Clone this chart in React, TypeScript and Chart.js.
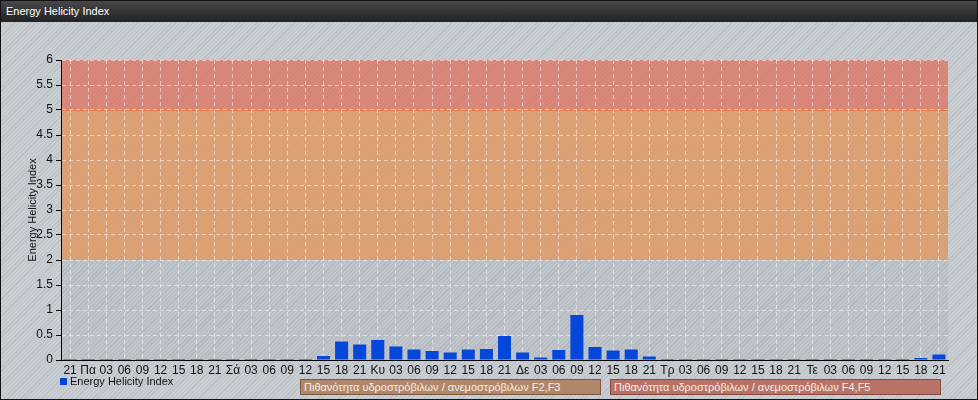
import React, { useEffect, useRef } from 'react';
import { Chart, registerables } from 'chart.js';

Chart.register(...registerables);

const chartTitle = 'Energy Helicity Index';
const seriesName = 'Energy Helicity Index';

const categories = [
  '21', 'Πα', '03', '06', '09', '12', '15', '18',
  '21', 'Σά', '03', '06', '09', '12', '15', '18',
  '21', 'Κυ', '03', '06', '09', '12', '15', '18',
  '21', 'Δε', '03', '06', '09', '12', '15', '18',
  '21', 'Τρ', '03', '06', '09', '12', '15', '18',
  '21', 'Τε', '03', '06', '09', '12', '15', '18',
  '21',
];

const helicity = [
  0.02, 0.02, 0.02, 0.02, 0.02, 0.02, 0.02, 0.02,
  0.02, 0.02, 0.02, 0.02, 0.02, 0.02, 0.08, 0.37,
  0.31, 0.40, 0.27, 0.21, 0.18, 0.15, 0.21, 0.22,
  0.48, 0.15, 0.05, 0.20, 0.90, 0.26, 0.19, 0.21,
  0.07, 0.02, 0.02, 0.02, 0.02, 0.02, 0.02, 0.02,
  0.02, 0.02, 0.02, 0.02, 0.02, 0.02, 0.02, 0.04,
  0.11,
];

const yMin = 0;
const yMax = 6;
const yStep = 0.5;

const bandFrom = [2, 5];
const bandTo = [5, 6];
const bandFill = ['rgba(236,140,62,0.60)', 'rgba(234,96,66,0.60)'];
const bandLabels = [
  'Πιθανότητα υδροστρόβιλων / ανεμοστρόβιλων F2,F3',
  'Πιθανότητα υδροστρόβιλων / ανεμοστρόβιλων F4,F5',
];
const bandLabelFill = ['#b0876a', '#b87366'];
const bandLabelBorder = ['#7d5a3c', '#874a42'];

const FONT = '"Liberation Sans", Arial, Helvetica, sans-serif';

const bandsPlugin = {
  id: 'bands',
  beforeDraw(chart: any) {
    const { ctx, chartArea } = chart;
    const y = chart.scales.y;
    ctx.save();
    ctx.fillStyle = 'rgba(110,115,125,0.10)';
    ctx.fillRect(chartArea.left, chartArea.top, chartArea.right - chartArea.left, chartArea.bottom - chartArea.top);
    for (let i = 0; i < bandFrom.length; i++) {
      const top = y.getPixelForValue(bandTo[i]);
      const bottom = y.getPixelForValue(bandFrom[i]);
      ctx.fillStyle = bandFill[i];
      ctx.fillRect(chartArea.left, top, chartArea.right - chartArea.left, bottom - top);
    }
    const y5 = Math.round(y.getPixelForValue(bandFrom[1])) + 0.5;
    ctx.strokeStyle = 'rgba(235,110,55,0.75)';
    ctx.lineWidth = 1;
    ctx.beginPath();
    ctx.moveTo(chartArea.left, y5);
    ctx.lineTo(chartArea.right, y5);
    ctx.stroke();
    ctx.restore();
  },
};

export default function App() {
  const canvasRef = useRef<HTMLCanvasElement | null>(null);

  useEffect(() => {
    document.body.style.margin = '0';
    const canvas = canvasRef.current;
    if (!canvas) return;
    const chart = new Chart(canvas, {
      type: 'bar',
      data: {
        labels: categories,
        datasets: [
          {
            label: seriesName,
            data: helicity,
            backgroundColor: '#0447da',
            borderWidth: 0,
          },
        ],
      },
      options: {
        animation: false,
        responsive: false,
        maintainAspectRatio: false,
        devicePixelRatio: 1,
        layout: { padding: { left: 22, top: 60, right: 30, bottom: 0 } },
        plugins: {
          legend: { display: false },
          tooltip: { enabled: false },
          title: { display: false },
        },
        scales: {
          x: {
            offset: true,
            grid: {
              offset: false,
              color: 'rgba(255,255,255,0.5)',
              drawTicks: false,
              lineWidth: 1,
            },
            border: { color: '#000', width: 1, dash: [4, 3] },
            ticks: {
              color: '#111',
              font: { family: FONT, size: 12 },
              padding: 3,
              maxRotation: 0,
              minRotation: 0,
              autoSkip: false,
            },
            afterFit: (s: any) => {
              s.height = 40;
            },
          },
          y: {
            min: yMin,
            max: yMax,
            grid: {
              color: 'rgba(255,255,255,0.5)',
              tickColor: '#000',
              tickLength: 5,
              lineWidth: 1,
            },
            border: { color: '#000', width: 1, dash: [4, 3] },
            ticks: {
              stepSize: yStep,
              color: '#111',
              font: { family: FONT, size: 12 },
              padding: 3,
              callback: (v: any) => String(Number(v)),
            },
            title: {
              display: true,
              text: seriesName,
              color: '#111',
              font: { family: FONT, size: 11 },
            },
            afterFit: (s: any) => {
              s.width = 39;
            },
          },
        },
      },
      plugins: [bandsPlugin],
    } as any);
    return () => chart.destroy();
  }, []);

  const stripes =
    'repeating-linear-gradient(135deg, #c9ced3 0px, #c9ced3 2px, #bcc1c7 2px, #bcc1c7 3px)';

  return (
    <div
      style={{
        position: 'relative',
        width: 978,
        height: 400,
        background: stripes,
        overflow: 'hidden',
        fontFamily: FONT,
      }}
    >
      <canvas
        ref={canvasRef}
        width={978}
        height={400}
        style={{ position: 'absolute', left: 0, top: 0, width: 978, height: 400 }}
      />
      <div
        style={{
          position: 'absolute',
          left: 0,
          top: 0,
          width: 978,
          height: 22,
          background: 'linear-gradient(#4a4a4a, #333 55%, #222)',
          color: '#fff',
          fontSize: 11,
          lineHeight: '22px',
          paddingLeft: 6,
          boxSizing: 'border-box',
        }}
      >
        {chartTitle}
      </div>
      <div
        style={{
          position: 'absolute',
          left: 60,
          top: 374,
          height: 14,
          display: 'flex',
          alignItems: 'center',
          fontSize: 11,
          color: '#111',
        }}
      >
        <span style={{ display: 'inline-block', width: 7, height: 7, background: '#0447da', marginRight: 3 }} />
        {seriesName}
      </div>
      {bandLabels.map((t, i) => (
        <div
          key={i}
          style={{
            position: 'absolute',
            left: i === 0 ? 300 : 610,
            top: 379,
            width: i === 0 ? 301 : 331,
            height: 16,
            boxSizing: 'border-box',
            background: bandLabelFill[i],
            border: `1px solid ${bandLabelBorder[i]}`,
            color: '#f6eee6',
            fontSize: 11,
            lineHeight: '14px',
            paddingLeft: 3,
            whiteSpace: 'nowrap',
          }}
        >
          {t}
        </div>
      ))}
      <div
        style={{
          position: 'absolute',
          left: 0,
          top: 0,
          width: 978,
          height: 400,
          boxSizing: 'border-box',
          border: '1px solid #111',
          pointerEvents: 'none',
        }}
      />
    </div>
  );
}
